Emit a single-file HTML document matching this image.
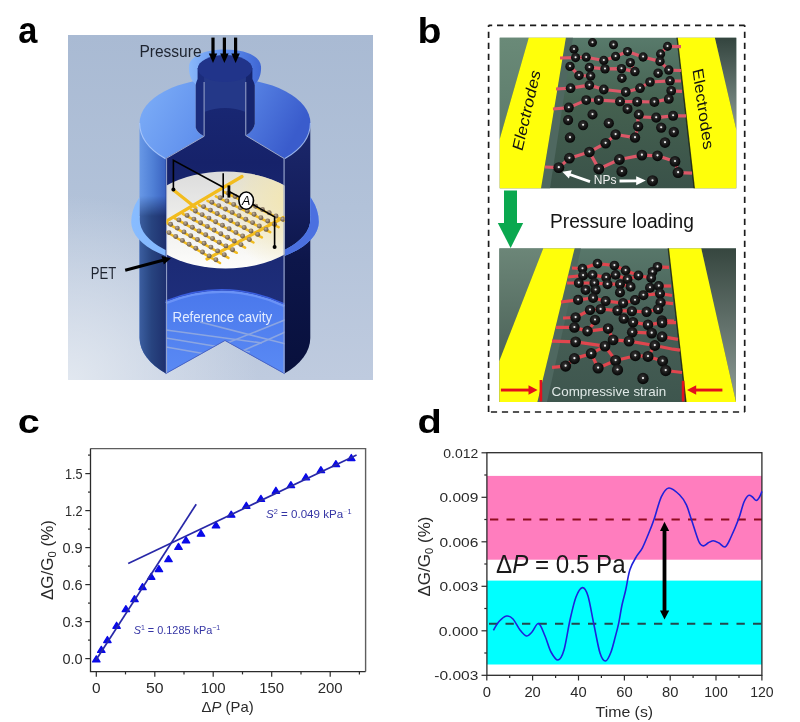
<!DOCTYPE html>
<html><head><meta charset="utf-8"><title>Figure</title>
<style>html,body{margin:0;padding:0;background:#fff;} svg{display:block;}</style>
</head><body>
<svg width="800" height="722" viewBox="0 0 800 722">
<rect x="0" y="0" width="800" height="722" fill="#fff"/>
<defs>
<linearGradient id="bgA" x1="0" y1="0" x2="0" y2="1">
 <stop offset="0" stop-color="#a9bad3"/><stop offset="0.5" stop-color="#b2c2d9"/><stop offset="1" stop-color="#bfcbdf"/>
</linearGradient>
<radialGradient id="bgAglow" cx="68" cy="385" r="190" gradientUnits="userSpaceOnUse">
 <stop offset="0" stop-color="#e2e8f0" stop-opacity="1"/><stop offset="1" stop-color="#e2e8f0" stop-opacity="0"/>
</radialGradient>
<linearGradient id="capTop" x1="0" y1="0" x2="1" y2="0.3">
 <stop offset="0" stop-color="#7fb0f8"/><stop offset="0.45" stop-color="#6393ee"/><stop offset="1" stop-color="#3a5ccc"/>
</linearGradient>
<linearGradient id="wallL" x1="0" y1="0" x2="1" y2="0">
 <stop offset="0" stop-color="#6898e6"/><stop offset="0.5" stop-color="#5080d6"/><stop offset="1" stop-color="#3a62c0"/>
</linearGradient>
<linearGradient id="wallL2" x1="0" y1="0" x2="1" y2="0">
 <stop offset="0" stop-color="#3c5ea0"/><stop offset="0.25" stop-color="#30508e"/><stop offset="0.45" stop-color="#284480"/><stop offset="1" stop-color="#1e306e"/>
</linearGradient>
<linearGradient id="wallR" x1="0" y1="123" x2="0" y2="373" gradientUnits="userSpaceOnUse">
 <stop offset="0" stop-color="#1c286c"/><stop offset="0.3" stop-color="#151f5e"/><stop offset="0.55" stop-color="#0d164a"/><stop offset="1" stop-color="#08103c"/>
</linearGradient>
<linearGradient id="interior" x1="0" y1="70" x2="0" y2="300" gradientUnits="userSpaceOnUse">
 <stop offset="0" stop-color="#1a2a78"/><stop offset="0.4" stop-color="#16226a"/><stop offset="1" stop-color="#1e2e7a"/>
</linearGradient>
<linearGradient id="floor" x1="0" y1="0" x2="0" y2="1">
 <stop offset="0" stop-color="#4a78ec"/><stop offset="1" stop-color="#5a8af4"/>
</linearGradient>
<linearGradient id="membrane" x1="0" y1="0" x2="0" y2="1">
 <stop offset="0" stop-color="#dcdcdc"/><stop offset="0.45" stop-color="#ececea"/><stop offset="1" stop-color="#fdfdfb"/>
</linearGradient>
<radialGradient id="memTint" cx="290" cy="200" r="70" gradientUnits="userSpaceOnUse">
 <stop offset="0" stop-color="#f3e6b0" stop-opacity="0.95"/><stop offset="0.6" stop-color="#f3e6b0" stop-opacity="0.5"/><stop offset="1" stop-color="#f3e6b0" stop-opacity="0"/>
</radialGradient>
<linearGradient id="flangeL" x1="0" y1="0" x2="1" y2="0">
 <stop offset="0" stop-color="#88bcff"/><stop offset="1" stop-color="#68a0f8"/>
</linearGradient>
<linearGradient id="neckRim" x1="0" y1="0" x2="1" y2="0">
 <stop offset="0" stop-color="#8ab8fb"/><stop offset="0.5" stop-color="#5f90ee"/><stop offset="1" stop-color="#3f66d4"/>
</linearGradient>
<radialGradient id="np" cx="0.45" cy="0.4" r="0.6">
 <stop offset="0" stop-color="#3a3a3a"/><stop offset="0.6" stop-color="#161616"/><stop offset="1" stop-color="#050505"/>
</radialGradient>
<radialGradient id="npA" cx="0.4" cy="0.35" r="0.7">
 <stop offset="0" stop-color="#c0b09a"/><stop offset="0.5" stop-color="#8a7a66"/><stop offset="1" stop-color="#5e4e3e"/>
</radialGradient>
<linearGradient id="bgB1" x1="0" y1="0" x2="0" y2="1">
 <stop offset="0" stop-color="#587a6b"/><stop offset="0.45" stop-color="#44604f"/><stop offset="1" stop-color="#3a5249"/>
</linearGradient>
<linearGradient id="outL1" x1="0" y1="0" x2="0" y2="1">
 <stop offset="0" stop-color="#6a8a78"/><stop offset="1" stop-color="#5c7a6a"/>
</linearGradient>
<linearGradient id="outR1" x1="0" y1="0" x2="0" y2="1">
 <stop offset="0" stop-color="#33443e"/><stop offset="1" stop-color="#8a9a94"/>
</linearGradient>
<linearGradient id="bgB2" x1="0" y1="0" x2="0" y2="1">
 <stop offset="0" stop-color="#58776a"/><stop offset="0.5" stop-color="#465e55"/><stop offset="1" stop-color="#3e564e"/>
</linearGradient>
<linearGradient id="outL2" x1="0" y1="0" x2="0" y2="1">
 <stop offset="0" stop-color="#6c8678"/><stop offset="1" stop-color="#4c6258"/>
</linearGradient>
<linearGradient id="outR2" x1="0" y1="0" x2="0" y2="1">
 <stop offset="0" stop-color="#36463f"/><stop offset="1" stop-color="#8e9c97"/>
</linearGradient>
</defs>
<text transform="translate(18.2,42.5) scale(0.92,1)" font-family="'Liberation Sans', 'DejaVu Sans', sans-serif" font-weight="bold" font-size="37.4" fill="#000">a</text>
<text transform="translate(417.5,42.8) scale(1.09,1)" font-family="'Liberation Sans', 'DejaVu Sans', sans-serif" font-weight="bold" font-size="36" fill="#000">b</text>
<text transform="translate(17.8,433.4) scale(1.2,1)" font-family="'Liberation Sans', 'DejaVu Sans', sans-serif" font-weight="bold" font-size="33" fill="#000">c</text>
<text transform="translate(417.6,433.0) scale(1.18,1)" font-family="'Liberation Sans', 'DejaVu Sans', sans-serif" font-weight="bold" font-size="33.7" fill="#000">d</text>
<g id="panelA">
<rect x="68" y="35" width="305" height="345" fill="url(#bgA)"/>
<rect x="68" y="35" width="305" height="345" fill="url(#bgAglow)"/>
<path d="M139.5,123 L166,123 L166,373.6 A85.4,50 0 0 1 139.5,338 Z" fill="url(#wallL)"/>
<linearGradient id="lwFade" x1="0" y1="196" x2="0" y2="216" gradientUnits="userSpaceOnUse"><stop offset="0" stop-color="#fff" stop-opacity="0"/><stop offset="1" stop-color="#fff" stop-opacity="1"/></linearGradient>
<mask id="lwMask"><rect x="130" y="190" width="40" height="200" fill="url(#lwFade)"/></mask>
<path d="M139.5,196 L166,196 L166,373.6 A85.4,50 0 0 1 139.5,338 Z" fill="url(#wallL2)" mask="url(#lwMask)"/>
<path d="M284.5,123 L310.3,123 L310.3,338 A85.4,50 0 0 1 284.5,373.6 Z" fill="url(#wallR)"/>
<clipPath id="clipFl"><rect x="100" y="150" width="39.5" height="130"/><rect x="310.3" y="150" width="25" height="130"/><rect x="139.5" y="216" width="26.3" height="60"/><rect x="284.5" y="216" width="25.8" height="60"/></clipPath>
<path d="M131.2,222 A93.8,60 0 0 1 318.8,222 A93.8,44 0 0 1 131.2,222 Z M139.6,219 A85.4,43 0 0 1 310.4,219 A85.4,43 0 0 1 139.6,219 Z" fill-rule="evenodd" fill="url(#flangeL)" clip-path="url(#clipFl)"/>
<clipPath id="clipFlR"><rect x="284.5" y="150" width="50" height="130"/></clipPath>
<g clip-path="url(#clipFlR)"><path d="M131.2,222 A93.8,60 0 0 1 318.8,222 A93.8,44 0 0 1 131.2,222 Z M139.6,219 A85.4,43 0 0 1 310.4,219 A85.4,43 0 0 1 139.6,219 Z" fill-rule="evenodd" fill="#4b70e0" clip-path="url(#clipFl)"/></g>
<clipPath id="clipCap"><path d="M60,30 L195.7,30 L195.7,127.6 Q196.5,133 204.1,136.3 L165.8,158.2 L165.8,400 L284.5,400 L284.5,158.5 L245.8,135.5 Q253.5,131 254.8,124 L254.8,30 L400,30 L400,400 L60,400 Z"/></clipPath>
<path d="M139.6,123 A85.4,45 0 0 1 310.4,123 A85.4,50 0 0 1 139.6,123 Z" fill="url(#capTop)" clip-path="url(#clipCap)"/>
<path d="M139.6,123 A85.4,50 0 0 0 310.4,123" fill="none" stroke="#b4d0ff" stroke-width="1.1" opacity="0.8" clip-path="url(#clipCap)"/>
<path d="M196,84.5 C190,80 188.6,72 189,66.5 C189.5,56 205,49.5 225,49.5 C245,49.5 260.5,56 261,66.5 C261.4,72 260,80 254.5,84.5 Z" fill="url(#neckRim)"/>
<path d="M204.1,68 L204.1,136.3 L165.8,158.2 L165.8,373.6 L225,340.5 L284.5,373.6 L284.5,158.5 L245.8,135.5 L245.8,68 Z" fill="url(#interior)"/>
<path d="M197.6,68 L204.1,68 L204.1,136.3 Q197,133 195.7,127.6 L195.7,85 Q196.2,82 197.6,79 Z" fill="#1b2c7c"/>
<path d="M245.8,68 L252.4,68 L252.4,79 Q253.9,82 254.8,85 L254.8,124 Q253.5,131 245.8,135.5 Z" fill="#16256e"/>
<path d="M204.1,68 L245.8,68 L245.8,112 Q225,104 204.1,112 Z" fill="#243888"/>
<ellipse cx="225" cy="68.5" rx="27.2" ry="13.5" fill="#21348a"/>
<path d="M165.8,302 Q225,278 284.5,305 L284.5,373.6 L225,340.5 L165.8,373.6 Z" fill="url(#floor)"/>
<path d="M165.8,303 Q225,279 284.5,306" fill="none" stroke="#6a92f6" stroke-width="2.5"/>
<path d="M165.8,301 Q225,277 284.5,304" fill="none" stroke="#3a5ee0" stroke-width="1.4"/>
<clipPath id="clipFloor"><path d="M165.8,302 Q225,278 284.5,305 L284.5,373.6 L225,340.5 L165.8,373.6 Z"/></clipPath>
<g clip-path="url(#clipFloor)" stroke="#9fb2dc" stroke-width="1.6" opacity="0.75"><line x1="166" y1="330" x2="262" y2="343"/><line x1="166" y1="338" x2="250" y2="352"/><line x1="166" y1="347" x2="240" y2="360"/><line x1="222" y1="345" x2="290" y2="318"/><line x1="240" y1="352" x2="290" y2="330"/><line x1="200" y1="322" x2="290" y2="345"/></g>
<path d="M165.8,373.6 L225,340.5 L284.5,373.6" fill="none" stroke="#4a66c8" stroke-width="1"/>
<clipPath id="clipMem"><rect x="166.5" y="150" width="118" height="130"/></clipPath>
<ellipse cx="225.5" cy="220" rx="84" ry="48.5" fill="url(#membrane)" clip-path="url(#clipMem)"/>
<ellipse cx="225.5" cy="220" rx="84" ry="48.5" fill="url(#memTint)" clip-path="url(#clipMem)"/>
<path d="M204.1,82 L204.1,136.3 L166.6,158.2 L166.6,373" fill="none" stroke="#9aa6cc" stroke-width="1"/>
<path d="M245.8,82 L245.8,135.5 L284,158.5 L284,373" fill="none" stroke="#9aa6cc" stroke-width="1"/>
<g clip-path="url(#clipMem)">
<g stroke="#f2bc1e" stroke-width="2.5" stroke-linecap="round"><line x1="158.0" y1="227.0" x2="220.0" y2="263.0"/><line x1="166.2" y1="222.6" x2="228.4" y2="257.9"/><line x1="174.5" y1="218.2" x2="236.8" y2="252.8"/><line x1="182.8" y1="213.9" x2="245.1" y2="247.6"/><line x1="191.0" y1="209.5" x2="253.5" y2="242.5"/><line x1="199.2" y1="205.1" x2="261.9" y2="237.4"/><line x1="207.5" y1="200.8" x2="270.2" y2="232.2"/><line x1="215.8" y1="196.4" x2="278.6" y2="227.1"/><line x1="224.0" y1="192.0" x2="287.0" y2="222.0"/></g>
<g stroke="#f2bc1e" stroke-width="3.2" stroke-linecap="round"><line x1="164" y1="222.5" x2="242" y2="176.5"/><line x1="283.5" y1="217.5" x2="207" y2="259"/><line x1="173.4" y1="190" x2="196" y2="208"/></g>
<g fill="url(#npA)"><circle cx="162.3" cy="228.7" r="2.45"/><circle cx="169.0" cy="232.6" r="2.45"/><circle cx="175.7" cy="236.5" r="2.45"/><circle cx="182.4" cy="240.4" r="2.45"/><circle cx="189.1" cy="244.3" r="2.45"/><circle cx="195.8" cy="248.2" r="2.45"/><circle cx="202.5" cy="252.0" r="2.45"/><circle cx="209.2" cy="255.9" r="2.45"/><circle cx="215.9" cy="259.8" r="2.45"/><circle cx="170.6" cy="224.3" r="2.45"/><circle cx="177.3" cy="228.1" r="2.45"/><circle cx="184.0" cy="231.9" r="2.45"/><circle cx="190.7" cy="235.7" r="2.45"/><circle cx="197.4" cy="239.5" r="2.45"/><circle cx="204.1" cy="243.3" r="2.45"/><circle cx="210.9" cy="247.1" r="2.45"/><circle cx="217.6" cy="250.9" r="2.45"/><circle cx="224.3" cy="254.7" r="2.45"/><circle cx="178.9" cy="219.9" r="2.45"/><circle cx="185.6" cy="223.6" r="2.45"/><circle cx="192.3" cy="227.3" r="2.45"/><circle cx="199.0" cy="231.0" r="2.45"/><circle cx="205.7" cy="234.8" r="2.45"/><circle cx="212.5" cy="238.5" r="2.45"/><circle cx="219.2" cy="242.2" r="2.45"/><circle cx="225.9" cy="245.9" r="2.45"/><circle cx="232.6" cy="249.7" r="2.45"/><circle cx="187.1" cy="215.4" r="2.45"/><circle cx="193.9" cy="219.1" r="2.45"/><circle cx="200.6" cy="222.7" r="2.45"/><circle cx="207.3" cy="226.4" r="2.45"/><circle cx="214.1" cy="230.0" r="2.45"/><circle cx="220.8" cy="233.7" r="2.45"/><circle cx="227.5" cy="237.3" r="2.45"/><circle cx="234.3" cy="241.0" r="2.45"/><circle cx="241.0" cy="244.6" r="2.45"/><circle cx="195.4" cy="211.0" r="2.45"/><circle cx="202.1" cy="214.6" r="2.45"/><circle cx="208.9" cy="218.1" r="2.45"/><circle cx="215.6" cy="221.7" r="2.45"/><circle cx="222.4" cy="225.3" r="2.45"/><circle cx="229.1" cy="228.8" r="2.45"/><circle cx="235.9" cy="232.4" r="2.45"/><circle cx="242.6" cy="236.0" r="2.45"/><circle cx="249.4" cy="239.5" r="2.45"/><circle cx="203.6" cy="206.6" r="2.45"/><circle cx="210.4" cy="210.1" r="2.45"/><circle cx="217.2" cy="213.5" r="2.45"/><circle cx="223.9" cy="217.0" r="2.45"/><circle cx="230.7" cy="220.5" r="2.45"/><circle cx="237.5" cy="224.0" r="2.45"/><circle cx="244.2" cy="227.5" r="2.45"/><circle cx="251.0" cy="231.0" r="2.45"/><circle cx="257.7" cy="234.4" r="2.45"/><circle cx="211.9" cy="202.2" r="2.45"/><circle cx="218.7" cy="205.6" r="2.45"/><circle cx="225.4" cy="209.0" r="2.45"/><circle cx="232.2" cy="212.4" r="2.45"/><circle cx="239.0" cy="215.8" r="2.45"/><circle cx="245.8" cy="219.2" r="2.45"/><circle cx="252.6" cy="222.6" r="2.45"/><circle cx="259.3" cy="226.0" r="2.45"/><circle cx="266.1" cy="229.4" r="2.45"/><circle cx="220.2" cy="197.7" r="2.45"/><circle cx="226.9" cy="201.0" r="2.45"/><circle cx="233.7" cy="204.4" r="2.45"/><circle cx="240.5" cy="207.7" r="2.45"/><circle cx="247.3" cy="211.0" r="2.45"/><circle cx="254.1" cy="214.3" r="2.45"/><circle cx="260.9" cy="217.7" r="2.45"/><circle cx="267.7" cy="221.0" r="2.45"/><circle cx="274.5" cy="224.3" r="2.45"/><circle cx="228.4" cy="193.3" r="2.45"/><circle cx="235.2" cy="196.5" r="2.45"/><circle cx="242.0" cy="199.8" r="2.45"/><circle cx="248.8" cy="203.0" r="2.45"/><circle cx="255.6" cy="206.3" r="2.45"/><circle cx="262.4" cy="209.5" r="2.45"/><circle cx="269.2" cy="212.7" r="2.45"/><circle cx="276.0" cy="216.0" r="2.45"/><circle cx="282.8" cy="219.2" r="2.45"/></g>
</g>
<g stroke="#000" stroke-width="1.6" fill="none">
<polyline points="173.4,189.5 173.4,160.3 223.2,187.2"/>
<line x1="223.2" y1="173.2" x2="223.2" y2="197.6"/>
<polyline points="229,191.5 246,200.5 274.6,216.9 274.6,247"/>
</g>
<rect x="227.5" y="185.4" width="2.8" height="12.2" fill="#000"/>
<circle cx="173.4" cy="189.6" r="2" fill="#000"/><circle cx="274.6" cy="247" r="2" fill="#000"/>
<ellipse cx="246.2" cy="200.6" rx="7.3" ry="8.6" fill="#fff" stroke="#000" stroke-width="1.6"/>
<text x="246.2" y="205.2" font-family="'Liberation Sans', 'DejaVu Sans', sans-serif" font-style="italic" font-size="12.5" text-anchor="middle" fill="#000">A</text>
<text x="139.4" y="57" font-family="'Liberation Sans', 'DejaVu Sans', sans-serif" font-size="16.5" fill="#1e2430" textLength="62.2" lengthAdjust="spacingAndGlyphs">Pressure</text>
<text x="90.8" y="278.7" font-family="'Liberation Sans', 'DejaVu Sans', sans-serif" font-size="16" fill="#1e2430" textLength="25.4" lengthAdjust="spacingAndGlyphs">PET</text>
<text x="172.5" y="322.2" font-family="'Liberation Sans', 'DejaVu Sans', sans-serif" font-size="14" fill="#e2ecff" textLength="99.7" lengthAdjust="spacingAndGlyphs">Reference cavity</text>
<rect x="211.4" y="37.6" width="3.2" height="17" fill="#000"/>
<path d="M208.8,53.5 L217.2,53.5 L213.0,63 Z" fill="#000"/>
<rect x="222.8" y="37.6" width="3.2" height="17" fill="#000"/>
<path d="M220.2,53.5 L228.6,53.5 L224.4,63 Z" fill="#000"/>
<rect x="234.0" y="37.6" width="3.2" height="17" fill="#000"/>
<path d="M231.4,53.5 L239.8,53.5 L235.6,63 Z" fill="#000"/>
<line x1="125.2" y1="270.2" x2="163" y2="260.3" stroke="#000" stroke-width="3"/>
<path d="M171,258.2 L161.5,256 L163.8,264.5 Z" fill="#000"/>
</g>
<g id="panelB">
<g stroke="#1c1c1c" stroke-width="1.7" fill="none" stroke-dasharray="6.2 4.8"><line x1="488.6" y1="25.3" x2="744.7" y2="25.3" stroke-dashoffset="2.6"/><line x1="488.6" y1="412" x2="744.7" y2="412" stroke-dashoffset="8.7"/><line x1="488.6" y1="25.3" x2="488.6" y2="412" stroke-dashoffset="4.45"/><line x1="744.7" y1="25.3" x2="744.7" y2="412" stroke-dashoffset="4.45"/></g>
<clipPath id="clipB1"><rect x="499.5" y="37.5" width="237" height="151"/></clipPath>
<g clip-path="url(#clipB1)">
<rect x="499.5" y="37.5" width="237" height="151" fill="url(#bgB1)"/>
<polygon points="499.5,37.5 528.8,37.5 499.5,139.7" fill="url(#outL1)"/>
<polygon points="565.9,37.5 573,37.5 550,188.5 541,188.5" fill="#4f6860"/>
<polygon points="714.8,37.5 736.5,37.5 736.5,130.5" fill="url(#outR1)"/>
<polygon points="528.8,37.5 565.9,37.5 541,188.5 499.5,188.5 499.5,139.7" fill="#ffff0a"/>
<polygon points="677.1,37.5 714.8,37.5 736.5,130.5 736.5,188.5 694.3,188.5" fill="#ffff0a"/>
<line x1="677.1" y1="37.5" x2="694.3" y2="188.5" stroke="#101810" stroke-width="1.4" opacity="0.8"/>
<g fill="none" stroke="#dc5868" stroke-width="3.2" stroke-linejoin="round"><polyline points="560.0,58.0 575.6,57.6 586.2,57.2 603.8,60.5 615.6,56.4 627.5,51.6 643.1,57.0 660.0,61.4 668.8,70.1 681.0,70.5"/><polyline points="667.5,46.4 681.0,46.6"/><polyline points="667.5,46.4 660.6,53.9 660.0,61.4"/><polyline points="570.0,66.4 579.0,75.5 590.6,76.0"/><polyline points="589.4,67.4 605.0,68.9 621.5,68.6 634.9,71.6"/><polyline points="630.3,62.6 634.9,71.6"/><polyline points="556.0,89.0 570.6,88.2 589.4,85.1 603.8,89.5 625.8,92.0 640.0,88.2 650.0,82.0 670.0,80.8 681.0,81.0"/><polyline points="553.0,109.0 568.8,107.6 586.2,100.1 598.8,100.1 620.0,101.4 637.2,101.7 654.4,102.0 668.8,98.9"/><polyline points="671.2,90.8 682.0,91.4"/><polyline points="643.0,117.0 656.2,117.6 673.1,115.8 686.0,115.8"/><polyline points="637.5,110.0 638.1,126.4 635.0,137.6"/><polyline points="545.0,167.0 558.8,167.6 569.4,158.2 589.4,152.0 605.6,143.2 615.6,134.5 635.0,137.6"/><polyline points="589.4,152.0 598.8,168.9 619.4,159.5 641.9,155.1 657.5,155.8 675.0,161.4 678.1,172.6 692.0,173.2"/></g>
<circle cx="592.5" cy="42.6" r="4.52" fill="url(#np)"/><circle cx="592.5" cy="42.2" r="0.99" fill="#ececec"/><circle cx="613.5" cy="44.8" r="4.54" fill="url(#np)"/><circle cx="613.5" cy="44.4" r="0.99" fill="#ececec"/><circle cx="574.0" cy="49.2" r="4.57" fill="url(#np)"/><circle cx="574.0" cy="48.9" r="1.00" fill="#ececec"/><circle cx="627.5" cy="51.6" r="4.59" fill="url(#np)"/><circle cx="627.5" cy="51.2" r="1.00" fill="#ececec"/><circle cx="575.6" cy="57.6" r="4.63" fill="url(#np)"/><circle cx="575.6" cy="57.2" r="1.01" fill="#ececec"/><circle cx="586.2" cy="57.2" r="4.63" fill="url(#np)"/><circle cx="586.2" cy="56.9" r="1.01" fill="#ececec"/><circle cx="603.8" cy="60.5" r="4.66" fill="url(#np)"/><circle cx="603.8" cy="60.1" r="1.01" fill="#ececec"/><circle cx="615.6" cy="56.4" r="4.62" fill="url(#np)"/><circle cx="615.6" cy="56.0" r="1.00" fill="#ececec"/><circle cx="630.3" cy="62.6" r="4.67" fill="url(#np)"/><circle cx="630.3" cy="62.2" r="1.01" fill="#ececec"/><circle cx="570.0" cy="66.4" r="4.70" fill="url(#np)"/><circle cx="570.0" cy="66.0" r="1.01" fill="#ececec"/><circle cx="589.4" cy="67.4" r="4.71" fill="url(#np)"/><circle cx="589.4" cy="67.0" r="1.01" fill="#ececec"/><circle cx="605.0" cy="68.9" r="4.72" fill="url(#np)"/><circle cx="605.0" cy="68.5" r="1.02" fill="#ececec"/><circle cx="621.5" cy="68.6" r="4.72" fill="url(#np)"/><circle cx="621.5" cy="68.2" r="1.02" fill="#ececec"/><circle cx="634.9" cy="71.6" r="4.74" fill="url(#np)"/><circle cx="634.9" cy="71.2" r="1.02" fill="#ececec"/><circle cx="579.0" cy="75.5" r="4.77" fill="url(#np)"/><circle cx="579.0" cy="75.1" r="1.02" fill="#ececec"/><circle cx="590.6" cy="76.0" r="4.77" fill="url(#np)"/><circle cx="590.6" cy="75.6" r="1.02" fill="#ececec"/><circle cx="621.9" cy="78.2" r="4.79" fill="url(#np)"/><circle cx="621.9" cy="77.8" r="1.02" fill="#ececec"/><circle cx="570.6" cy="88.2" r="4.87" fill="url(#np)"/><circle cx="570.6" cy="87.8" r="1.03" fill="#ececec"/><circle cx="589.4" cy="85.1" r="4.84" fill="url(#np)"/><circle cx="589.4" cy="84.7" r="1.03" fill="#ececec"/><circle cx="603.8" cy="89.5" r="4.88" fill="url(#np)"/><circle cx="603.8" cy="89.1" r="1.04" fill="#ececec"/><circle cx="625.8" cy="92.0" r="4.89" fill="url(#np)"/><circle cx="625.8" cy="91.6" r="1.04" fill="#ececec"/><circle cx="640.0" cy="88.2" r="4.87" fill="url(#np)"/><circle cx="640.0" cy="87.8" r="1.03" fill="#ececec"/><circle cx="586.2" cy="100.1" r="4.96" fill="url(#np)"/><circle cx="586.2" cy="99.7" r="1.04" fill="#ececec"/><circle cx="598.8" cy="100.1" r="4.96" fill="url(#np)"/><circle cx="598.8" cy="99.7" r="1.04" fill="#ececec"/><circle cx="620.0" cy="101.4" r="4.97" fill="url(#np)"/><circle cx="620.0" cy="101.0" r="1.05" fill="#ececec"/><circle cx="637.2" cy="101.7" r="4.97" fill="url(#np)"/><circle cx="637.2" cy="101.3" r="1.05" fill="#ececec"/><circle cx="568.8" cy="107.6" r="5.01" fill="url(#np)"/><circle cx="568.8" cy="107.2" r="1.05" fill="#ececec"/><circle cx="627.5" cy="108.9" r="5.02" fill="url(#np)"/><circle cx="627.5" cy="108.5" r="1.05" fill="#ececec"/><circle cx="667.5" cy="46.4" r="4.55" fill="url(#np)"/><circle cx="667.5" cy="46.0" r="1.00" fill="#ececec"/><circle cx="643.1" cy="57.0" r="4.63" fill="url(#np)"/><circle cx="643.1" cy="56.6" r="1.01" fill="#ececec"/><circle cx="660.6" cy="53.9" r="4.61" fill="url(#np)"/><circle cx="660.6" cy="53.5" r="1.00" fill="#ececec"/><circle cx="660.0" cy="61.4" r="4.66" fill="url(#np)"/><circle cx="660.0" cy="61.0" r="1.01" fill="#ececec"/><circle cx="658.1" cy="73.2" r="4.75" fill="url(#np)"/><circle cx="658.1" cy="72.8" r="1.02" fill="#ececec"/><circle cx="668.8" cy="70.1" r="4.73" fill="url(#np)"/><circle cx="668.8" cy="69.7" r="1.02" fill="#ececec"/><circle cx="650.0" cy="82.0" r="4.82" fill="url(#np)"/><circle cx="650.0" cy="81.6" r="1.03" fill="#ececec"/><circle cx="670.0" cy="80.8" r="4.81" fill="url(#np)"/><circle cx="670.0" cy="80.3" r="1.03" fill="#ececec"/><circle cx="671.2" cy="90.8" r="4.88" fill="url(#np)"/><circle cx="671.2" cy="90.3" r="1.04" fill="#ececec"/><circle cx="668.8" cy="98.9" r="4.95" fill="url(#np)"/><circle cx="668.8" cy="98.5" r="1.04" fill="#ececec"/><circle cx="654.4" cy="102.0" r="4.97" fill="url(#np)"/><circle cx="654.4" cy="101.6" r="1.05" fill="#ececec"/><circle cx="568.1" cy="120.1" r="5.11" fill="url(#np)"/><circle cx="568.1" cy="119.7" r="1.06" fill="#ececec"/><circle cx="583.1" cy="125.1" r="5.15" fill="url(#np)"/><circle cx="583.1" cy="124.7" r="1.07" fill="#ececec"/><circle cx="592.5" cy="114.5" r="5.07" fill="url(#np)"/><circle cx="592.5" cy="114.1" r="1.06" fill="#ececec"/><circle cx="608.8" cy="123.2" r="5.13" fill="url(#np)"/><circle cx="608.8" cy="122.8" r="1.07" fill="#ececec"/><circle cx="570.0" cy="137.6" r="5.24" fill="url(#np)"/><circle cx="570.0" cy="137.2" r="1.08" fill="#ececec"/><circle cx="615.6" cy="134.5" r="5.22" fill="url(#np)"/><circle cx="615.6" cy="134.1" r="1.08" fill="#ececec"/><circle cx="605.6" cy="143.2" r="5.28" fill="url(#np)"/><circle cx="605.6" cy="142.8" r="1.08" fill="#ececec"/><circle cx="589.4" cy="152.0" r="5.35" fill="url(#np)"/><circle cx="589.4" cy="151.6" r="1.09" fill="#ececec"/><circle cx="569.4" cy="158.2" r="5.40" fill="url(#np)"/><circle cx="569.4" cy="157.8" r="1.10" fill="#ececec"/><circle cx="558.8" cy="167.6" r="5.47" fill="url(#np)"/><circle cx="558.8" cy="167.2" r="1.11" fill="#ececec"/><circle cx="598.8" cy="168.9" r="5.48" fill="url(#np)"/><circle cx="598.8" cy="168.5" r="1.11" fill="#ececec"/><circle cx="619.4" cy="159.5" r="5.41" fill="url(#np)"/><circle cx="619.4" cy="159.1" r="1.10" fill="#ececec"/><circle cx="621.9" cy="171.4" r="5.50" fill="url(#np)"/><circle cx="621.9" cy="171.0" r="1.11" fill="#ececec"/><circle cx="638.8" cy="114.5" r="5.07" fill="url(#np)"/><circle cx="638.8" cy="114.1" r="1.06" fill="#ececec"/><circle cx="656.2" cy="117.6" r="5.09" fill="url(#np)"/><circle cx="656.2" cy="117.2" r="1.06" fill="#ececec"/><circle cx="673.1" cy="115.8" r="5.07" fill="url(#np)"/><circle cx="673.1" cy="115.3" r="1.06" fill="#ececec"/><circle cx="638.1" cy="126.4" r="5.16" fill="url(#np)"/><circle cx="638.1" cy="126.0" r="1.07" fill="#ececec"/><circle cx="661.2" cy="127.6" r="5.16" fill="url(#np)"/><circle cx="661.2" cy="127.2" r="1.07" fill="#ececec"/><circle cx="673.8" cy="132.0" r="5.20" fill="url(#np)"/><circle cx="673.8" cy="131.6" r="1.07" fill="#ececec"/><circle cx="635.0" cy="137.6" r="5.24" fill="url(#np)"/><circle cx="635.0" cy="137.2" r="1.08" fill="#ececec"/><circle cx="665.0" cy="142.6" r="5.28" fill="url(#np)"/><circle cx="665.0" cy="142.2" r="1.08" fill="#ececec"/><circle cx="641.9" cy="155.1" r="5.37" fill="url(#np)"/><circle cx="641.9" cy="154.7" r="1.09" fill="#ececec"/><circle cx="657.5" cy="155.8" r="5.38" fill="url(#np)"/><circle cx="657.5" cy="155.3" r="1.10" fill="#ececec"/><circle cx="675.0" cy="161.4" r="5.42" fill="url(#np)"/><circle cx="675.0" cy="161.0" r="1.10" fill="#ececec"/><circle cx="678.1" cy="172.6" r="5.51" fill="url(#np)"/><circle cx="678.1" cy="172.2" r="1.11" fill="#ececec"/><circle cx="652.5" cy="180.8" r="5.57" fill="url(#np)"/><circle cx="652.5" cy="180.3" r="1.12" fill="#ececec"/>
<text x="593.8" y="184.3" font-family="'Liberation Sans', 'DejaVu Sans', sans-serif" font-size="13" fill="#f2f2f2" textLength="22.7" lengthAdjust="spacingAndGlyphs">NPs</text>
<line x1="590" y1="181.6" x2="569" y2="174.2" stroke="#fff" stroke-width="2.8"/>
<path d="M562.3,171.7 L571.8,170.2 L568.9,178.6 Z" fill="#fff"/>
<line x1="619.5" y1="181" x2="637" y2="180.8" stroke="#fff" stroke-width="2.8"/>
<path d="M645.8,180.6 L636.2,176.2 L636.2,185.2 Z" fill="#fff"/>
<text transform="translate(526.3,110.2) rotate(-77) skewX(-8)" font-family="'Liberation Sans', 'DejaVu Sans', sans-serif" font-size="15.5" fill="#111" text-anchor="middle" dominant-baseline="central" textLength="82" lengthAdjust="spacingAndGlyphs">Electrodes</text>
<text transform="translate(703.4,108.7) rotate(82) skewX(6)" font-family="'Liberation Sans', 'DejaVu Sans', sans-serif" font-size="15.5" fill="#111" text-anchor="middle" dominant-baseline="central" textLength="81" lengthAdjust="spacingAndGlyphs">Electrodes</text>
</g>
<rect x="504" y="190.5" width="13" height="33" fill="#0aa84f"/>
<polygon points="497.8,223 523.2,223 510.6,248" fill="#0aa84f"/>
<text x="550" y="227.5" font-family="'Liberation Sans', 'DejaVu Sans', sans-serif" font-size="20" fill="#151515" textLength="143.8" lengthAdjust="spacingAndGlyphs">Pressure loading</text>
<clipPath id="clipB2"><rect x="499.2" y="248.2" width="236.8" height="153.8"/></clipPath>
<g clip-path="url(#clipB2)">
<rect x="499.2" y="248.2" width="236.8" height="153.8" fill="url(#bgB2)"/>
<polygon points="499.2,248.2 543.3,248.2 499.2,361.2" fill="url(#outL2)"/>
<polygon points="574.6,248.2 581,248.2 547,402 537.4,402" fill="#4f6860"/>
<polygon points="701.2,248.2 736,248.2 736,402" fill="url(#outR2)"/>
<polygon points="543.3,248.2 574.6,248.2 537.4,402 499.2,402 499.2,361.2" fill="#ffff0a"/>
<polygon points="668.3,248.2 701.2,248.2 736,402 685.9,402" fill="#ffff0a"/>
<line x1="668.3" y1="248.2" x2="685.9" y2="402" stroke="#101810" stroke-width="1.4" opacity="0.8"/>
<g fill="none" stroke="#e0464e" stroke-width="3.2" stroke-linejoin="round"><polyline points="572.0,268.0 582.5,268.6 597.5,263.6 614.4,265.5 625.6,270.5 638.4,275.5 651.2,278.0"/><polyline points="652.5,271.8 657.5,266.8 669.0,267.4"/><polyline points="568.0,277.0 583.1,275.5 592.5,274.9 606.2,277.4 615.6,274.9 627.5,279.2 638.4,276.0"/><polyline points="567.0,283.0 578.8,283.0 594.4,283.0 607.5,284.2 620.0,284.2 630.6,286.8"/><polyline points="658.8,286.0 671.0,286.0"/><polyline points="561.0,302.0 578.1,299.9 593.1,298.0 605.6,301.1 623.1,303.0 635.0,300.2 643.4,295.2 660.0,293.6 672.0,295.5"/><polyline points="660.6,302.4 673.0,303.6"/><polyline points="563.0,318.0 575.6,317.5 590.0,309.9 600.6,309.2 617.5,310.5 631.9,311.1 646.6,311.8 658.1,309.2"/><polyline points="661.9,320.5 674.0,321.0"/><polyline points="556.0,327.4 574.4,327.4 587.5,331.1 608.1,328.6 613.1,339.9 629.0,341.2 654.8,345.5 673.0,349.2 680.0,350.2"/><polyline points="595.6,321.1 587.5,331.1"/><polyline points="633.0,322.2 648.0,324.8 662.1,322.7 676.0,322.7"/><polyline points="632.2,332.2 651.7,333.1"/><polyline points="662.1,336.7 678.0,339.3"/><polyline points="552.0,341.1 575.6,341.8 605.0,346.1 591.2,353.6 574.4,358.6 565.6,366.1 552.0,367.4"/><polyline points="605.0,346.1 615.6,360.5"/><polyline points="591.2,353.6 598.1,368.0 615.6,360.5 635.3,355.7 648.0,356.4 662.6,361.1"/><polyline points="654.8,345.5 648.0,356.4"/><polyline points="665.7,370.5 682.0,372.5"/></g>
<circle cx="597.5" cy="263.6" r="4.83" fill="url(#np)"/><circle cx="597.5" cy="263.2" r="1.03" fill="#ececec"/><circle cx="614.4" cy="265.5" r="4.84" fill="url(#np)"/><circle cx="614.4" cy="265.1" r="1.03" fill="#ececec"/><circle cx="582.5" cy="268.6" r="4.86" fill="url(#np)"/><circle cx="582.5" cy="268.2" r="1.03" fill="#ececec"/><circle cx="625.6" cy="270.5" r="4.88" fill="url(#np)"/><circle cx="625.6" cy="270.1" r="1.04" fill="#ececec"/><circle cx="638.4" cy="275.5" r="4.92" fill="url(#np)"/><circle cx="638.4" cy="275.1" r="1.04" fill="#ececec"/><circle cx="657.5" cy="266.8" r="4.85" fill="url(#np)"/><circle cx="657.5" cy="266.4" r="1.03" fill="#ececec"/><circle cx="652.5" cy="271.8" r="4.89" fill="url(#np)"/><circle cx="652.5" cy="271.4" r="1.04" fill="#ececec"/><circle cx="583.1" cy="275.5" r="4.92" fill="url(#np)"/><circle cx="583.1" cy="275.1" r="1.04" fill="#ececec"/><circle cx="592.5" cy="274.9" r="4.91" fill="url(#np)"/><circle cx="592.5" cy="274.5" r="1.04" fill="#ececec"/><circle cx="606.2" cy="277.4" r="4.93" fill="url(#np)"/><circle cx="606.2" cy="277.0" r="1.04" fill="#ececec"/><circle cx="615.6" cy="274.9" r="4.91" fill="url(#np)"/><circle cx="615.6" cy="274.5" r="1.04" fill="#ececec"/><circle cx="627.5" cy="279.2" r="4.94" fill="url(#np)"/><circle cx="627.5" cy="278.9" r="1.04" fill="#ececec"/><circle cx="651.2" cy="278.0" r="4.93" fill="url(#np)"/><circle cx="651.2" cy="277.6" r="1.04" fill="#ececec"/><circle cx="578.8" cy="283.0" r="4.97" fill="url(#np)"/><circle cx="578.8" cy="282.6" r="1.05" fill="#ececec"/><circle cx="594.4" cy="283.0" r="4.97" fill="url(#np)"/><circle cx="594.4" cy="282.6" r="1.05" fill="#ececec"/><circle cx="607.5" cy="284.2" r="4.98" fill="url(#np)"/><circle cx="607.5" cy="283.9" r="1.05" fill="#ececec"/><circle cx="620.0" cy="284.2" r="4.98" fill="url(#np)"/><circle cx="620.0" cy="283.9" r="1.05" fill="#ececec"/><circle cx="630.6" cy="286.8" r="5.00" fill="url(#np)"/><circle cx="630.6" cy="286.4" r="1.05" fill="#ececec"/><circle cx="650.0" cy="287.7" r="5.01" fill="url(#np)"/><circle cx="650.0" cy="287.3" r="1.05" fill="#ececec"/><circle cx="585.6" cy="289.9" r="5.02" fill="url(#np)"/><circle cx="585.6" cy="289.5" r="1.05" fill="#ececec"/><circle cx="595.6" cy="289.9" r="5.02" fill="url(#np)"/><circle cx="595.6" cy="289.5" r="1.05" fill="#ececec"/><circle cx="620.0" cy="292.4" r="5.04" fill="url(#np)"/><circle cx="620.0" cy="292.0" r="1.06" fill="#ececec"/><circle cx="643.4" cy="295.2" r="5.06" fill="url(#np)"/><circle cx="643.4" cy="294.8" r="1.06" fill="#ececec"/><circle cx="658.8" cy="286.0" r="5.00" fill="url(#np)"/><circle cx="658.8" cy="285.6" r="1.05" fill="#ececec"/><circle cx="660.0" cy="293.6" r="5.05" fill="url(#np)"/><circle cx="660.0" cy="293.2" r="1.06" fill="#ececec"/><circle cx="578.1" cy="299.9" r="5.10" fill="url(#np)"/><circle cx="578.1" cy="299.5" r="1.06" fill="#ececec"/><circle cx="593.1" cy="298.0" r="5.08" fill="url(#np)"/><circle cx="593.1" cy="297.6" r="1.06" fill="#ececec"/><circle cx="605.6" cy="301.1" r="5.11" fill="url(#np)"/><circle cx="605.6" cy="300.7" r="1.06" fill="#ececec"/><circle cx="623.1" cy="303.0" r="5.12" fill="url(#np)"/><circle cx="623.1" cy="302.6" r="1.06" fill="#ececec"/><circle cx="635.0" cy="300.2" r="5.10" fill="url(#np)"/><circle cx="635.0" cy="299.8" r="1.06" fill="#ececec"/><circle cx="660.6" cy="302.4" r="5.12" fill="url(#np)"/><circle cx="660.6" cy="302.0" r="1.06" fill="#ececec"/><circle cx="590.0" cy="309.9" r="5.17" fill="url(#np)"/><circle cx="590.0" cy="309.5" r="1.07" fill="#ececec"/><circle cx="600.6" cy="309.2" r="5.17" fill="url(#np)"/><circle cx="600.6" cy="308.9" r="1.07" fill="#ececec"/><circle cx="617.5" cy="310.5" r="5.18" fill="url(#np)"/><circle cx="617.5" cy="310.1" r="1.07" fill="#ececec"/><circle cx="631.9" cy="311.1" r="5.18" fill="url(#np)"/><circle cx="631.9" cy="310.7" r="1.07" fill="#ececec"/><circle cx="646.6" cy="311.8" r="5.19" fill="url(#np)"/><circle cx="646.6" cy="311.4" r="1.07" fill="#ececec"/><circle cx="658.1" cy="309.2" r="5.17" fill="url(#np)"/><circle cx="658.1" cy="308.9" r="1.07" fill="#ececec"/><circle cx="575.6" cy="317.5" r="5.23" fill="url(#np)"/><circle cx="575.6" cy="317.1" r="1.08" fill="#ececec"/><circle cx="595.0" cy="319.9" r="5.25" fill="url(#np)"/><circle cx="595.0" cy="319.5" r="1.08" fill="#ececec"/><circle cx="623.8" cy="318.6" r="5.24" fill="url(#np)"/><circle cx="623.8" cy="318.2" r="1.08" fill="#ececec"/><circle cx="661.9" cy="320.5" r="5.25" fill="url(#np)"/><circle cx="661.9" cy="320.1" r="1.08" fill="#ececec"/><circle cx="574.4" cy="327.4" r="5.31" fill="url(#np)"/><circle cx="574.4" cy="327.0" r="1.09" fill="#ececec"/><circle cx="587.5" cy="331.1" r="5.33" fill="url(#np)"/><circle cx="587.5" cy="330.7" r="1.09" fill="#ececec"/><circle cx="608.1" cy="328.6" r="5.31" fill="url(#np)"/><circle cx="608.1" cy="328.2" r="1.09" fill="#ececec"/><circle cx="633.0" cy="322.2" r="5.27" fill="url(#np)"/><circle cx="633.0" cy="321.8" r="1.08" fill="#ececec"/><circle cx="648.0" cy="324.8" r="5.29" fill="url(#np)"/><circle cx="648.0" cy="324.4" r="1.08" fill="#ececec"/><circle cx="662.1" cy="322.7" r="5.27" fill="url(#np)"/><circle cx="662.1" cy="322.3" r="1.08" fill="#ececec"/><circle cx="632.2" cy="332.2" r="5.34" fill="url(#np)"/><circle cx="632.2" cy="331.8" r="1.09" fill="#ececec"/><circle cx="651.7" cy="333.1" r="5.35" fill="url(#np)"/><circle cx="651.7" cy="332.7" r="1.09" fill="#ececec"/><circle cx="662.1" cy="336.7" r="5.38" fill="url(#np)"/><circle cx="662.1" cy="336.3" r="1.10" fill="#ececec"/><circle cx="575.6" cy="341.8" r="5.41" fill="url(#np)"/><circle cx="575.6" cy="341.4" r="1.10" fill="#ececec"/><circle cx="613.1" cy="339.9" r="5.40" fill="url(#np)"/><circle cx="613.1" cy="339.5" r="1.10" fill="#ececec"/><circle cx="629.0" cy="341.2" r="5.41" fill="url(#np)"/><circle cx="629.0" cy="340.8" r="1.10" fill="#ececec"/><circle cx="654.8" cy="345.5" r="5.44" fill="url(#np)"/><circle cx="654.8" cy="345.1" r="1.10" fill="#ececec"/><circle cx="605.0" cy="346.1" r="5.45" fill="url(#np)"/><circle cx="605.0" cy="345.7" r="1.10" fill="#ececec"/><circle cx="591.2" cy="353.6" r="5.50" fill="url(#np)"/><circle cx="591.2" cy="353.2" r="1.11" fill="#ececec"/><circle cx="574.4" cy="358.6" r="5.54" fill="url(#np)"/><circle cx="574.4" cy="358.2" r="1.11" fill="#ececec"/><circle cx="635.3" cy="355.7" r="5.52" fill="url(#np)"/><circle cx="635.3" cy="355.3" r="1.11" fill="#ececec"/><circle cx="648.0" cy="356.4" r="5.52" fill="url(#np)"/><circle cx="648.0" cy="356.0" r="1.11" fill="#ececec"/><circle cx="662.6" cy="361.1" r="5.56" fill="url(#np)"/><circle cx="662.6" cy="360.7" r="1.12" fill="#ececec"/><circle cx="565.6" cy="366.1" r="5.60" fill="url(#np)"/><circle cx="565.6" cy="365.7" r="1.12" fill="#ececec"/><circle cx="598.1" cy="368.0" r="5.61" fill="url(#np)"/><circle cx="598.1" cy="367.6" r="1.12" fill="#ececec"/><circle cx="615.6" cy="360.5" r="5.55" fill="url(#np)"/><circle cx="615.6" cy="360.1" r="1.12" fill="#ececec"/><circle cx="617.5" cy="369.9" r="5.62" fill="url(#np)"/><circle cx="617.5" cy="369.5" r="1.12" fill="#ececec"/><circle cx="665.7" cy="370.5" r="5.63" fill="url(#np)"/><circle cx="665.7" cy="370.1" r="1.13" fill="#ececec"/><circle cx="643.0" cy="378.5" r="5.69" fill="url(#np)"/><circle cx="643.0" cy="378.1" r="1.13" fill="#ececec"/>
<text x="551.5" y="395.8" font-family="'Liberation Sans', 'DejaVu Sans', sans-serif" font-size="13.5" fill="#dfe8e6" textLength="114.7" lengthAdjust="spacingAndGlyphs">Compressive strain</text>
<rect x="539.6" y="380" width="2.6" height="21.5" fill="#e3101c"/>
<rect x="681.8" y="380.8" width="2.6" height="20.7" fill="#e3101c"/>
<rect x="500.9" y="388.6" width="29" height="2.9" fill="#e3101c"/>
<polygon points="528.5,385.3 537.6,390 528.5,394.7" fill="#e3101c"/>
<rect x="695" y="388.6" width="27.4" height="2.9" fill="#e3101c"/>
<polygon points="696.2,385.3 687,390 696.2,394.7" fill="#e3101c"/>
</g>
</g>
<g id="panelC">
<path d="M90.5,448.6 L365.6,448.6 L365.6,671.6" fill="none" stroke="#5e5e5e" stroke-width="1.4"/>
<path d="M90.5,448.6 L90.5,671.6 L365.6,671.6" fill="none" stroke="#2b2b2b" stroke-width="1.3"/>
<g stroke="#2b2b2b" stroke-width="1.2"><line x1="85.3" y1="658.6" x2="90.5" y2="658.6"/><line x1="85.3" y1="621.6" x2="90.5" y2="621.6"/><line x1="85.3" y1="584.6" x2="90.5" y2="584.6"/><line x1="85.3" y1="547.6" x2="90.5" y2="547.6"/><line x1="85.3" y1="510.6" x2="90.5" y2="510.6"/><line x1="85.3" y1="473.6" x2="90.5" y2="473.6"/><line x1="88.0" y1="640.1" x2="90.5" y2="640.1"/><line x1="88.0" y1="603.1" x2="90.5" y2="603.1"/><line x1="88.0" y1="566.1" x2="90.5" y2="566.1"/><line x1="88.0" y1="529.1" x2="90.5" y2="529.1"/><line x1="88.0" y1="492.1" x2="90.5" y2="492.1"/><line x1="88.0" y1="455.1" x2="90.5" y2="455.1"/><line x1="96.3" y1="671.6" x2="96.3" y2="676.8000000000001"/><line x1="154.8" y1="671.6" x2="154.8" y2="676.8000000000001"/><line x1="213.2" y1="671.6" x2="213.2" y2="676.8000000000001"/><line x1="271.7" y1="671.6" x2="271.7" y2="676.8000000000001"/><line x1="330.2" y1="671.6" x2="330.2" y2="676.8000000000001"/><line x1="125.5" y1="671.6" x2="125.5" y2="674.4"/><line x1="184.0" y1="671.6" x2="184.0" y2="674.4"/><line x1="242.5" y1="671.6" x2="242.5" y2="674.4"/><line x1="301.0" y1="671.6" x2="301.0" y2="674.4"/><line x1="359.4" y1="671.6" x2="359.4" y2="674.4"/></g>
<g font-family="'Liberation Sans', 'DejaVu Sans', sans-serif" font-size="13.3" fill="#2a2a2a"><text x="82.6" y="663.5" text-anchor="end" font-size="13.8" textLength="20.2" lengthAdjust="spacingAndGlyphs">0.0</text><text x="82.6" y="626.5" text-anchor="end" font-size="13.8" textLength="20.2" lengthAdjust="spacingAndGlyphs">0.3</text><text x="82.6" y="589.5" text-anchor="end" font-size="13.8" textLength="20.2" lengthAdjust="spacingAndGlyphs">0.6</text><text x="82.6" y="552.5" text-anchor="end" font-size="13.8" textLength="20.2" lengthAdjust="spacingAndGlyphs">0.9</text><text x="82.6" y="515.5" text-anchor="end" font-size="13.8" textLength="17.6" lengthAdjust="spacingAndGlyphs">1.2</text><text x="82.6" y="478.5" text-anchor="end" font-size="13.8" textLength="17.6" lengthAdjust="spacingAndGlyphs">1.5</text><text x="96.3" y="692.6" text-anchor="middle" font-size="14" textLength="8.6" lengthAdjust="spacingAndGlyphs">0</text><text x="154.8" y="692.6" text-anchor="middle" font-size="14" textLength="17.6" lengthAdjust="spacingAndGlyphs">50</text><text x="213.2" y="692.6" text-anchor="middle" font-size="14" textLength="25.0" lengthAdjust="spacingAndGlyphs">100</text><text x="271.7" y="692.6" text-anchor="middle" font-size="14" textLength="25.0" lengthAdjust="spacingAndGlyphs">150</text><text x="330.2" y="692.6" text-anchor="middle" font-size="14" textLength="25.0" lengthAdjust="spacingAndGlyphs">200</text></g>
<text x="201.6" y="711.6" font-family="'Liberation Sans', 'DejaVu Sans', sans-serif" font-size="14.4" fill="#2a2a2a" textLength="52" lengthAdjust="spacingAndGlyphs">Δ<tspan font-style="italic">P</tspan> (Pa)</text>
<text transform="translate(52.8,560) rotate(-90)" font-family="'Liberation Sans', 'DejaVu Sans', sans-serif" font-size="16.5" fill="#2a2a2a" text-anchor="middle" textLength="80" lengthAdjust="spacingAndGlyphs">ΔG/G<tspan font-size="11" dy="3.5">0</tspan><tspan dy="-3.5"> (%)</tspan></text>
<g fill="#0a0ae8" stroke="#0a0ae8" stroke-width="1.3" stroke-linejoin="round"><path d="M96.3,655.9 L100.0,661.9 L92.6,661.9 Z"/><path d="M101.3,646.4 L105.0,652.4 L97.6,652.4 Z"/><path d="M107.4,636.5 L111.1,642.5 L103.7,642.5 Z"/><path d="M116.6,622.3 L120.3,628.3 L112.9,628.3 Z"/><path d="M125.9,605.7 L129.6,611.7 L122.2,611.7 Z"/><path d="M134.5,595.7 L138.2,601.7 L130.8,601.7 Z"/><path d="M142.5,583.6 L146.2,589.6 L138.8,589.6 Z"/><path d="M151.2,573.3 L154.9,579.3 L147.5,579.3 Z"/><path d="M158.9,565.6 L162.6,571.6 L155.2,571.6 Z"/><path d="M168.5,555.7 L172.2,561.7 L164.8,561.7 Z"/><path d="M178.5,543.4 L182.2,549.4 L174.8,549.4 Z"/><path d="M186.0,536.9 L189.7,542.9 L182.3,542.9 Z"/><path d="M201.0,530.2 L204.7,536.2 L197.3,536.2 Z"/><path d="M216.0,521.9 L219.7,527.9 L212.3,527.9 Z"/><path d="M231.2,511.2 L234.9,517.2 L227.5,517.2 Z"/><path d="M246.3,502.3 L250.0,508.3 L242.6,508.3 Z"/><path d="M260.9,495.4 L264.6,501.4 L257.2,501.4 Z"/><path d="M275.9,487.3 L279.6,493.3 L272.2,493.3 Z"/><path d="M290.9,481.7 L294.6,487.7 L287.2,487.7 Z"/><path d="M305.9,473.8 L309.6,479.8 L302.2,479.8 Z"/><path d="M320.9,466.7 L324.6,472.7 L317.2,472.7 Z"/><path d="M335.9,460.7 L339.6,466.7 L332.2,466.7 Z"/><path d="M351.3,454.5 L355.0,460.5 L347.6,460.5 Z"/></g>
<line x1="96" y1="660" x2="196.2" y2="504.2" stroke="#2828a8" stroke-width="1.7"/>
<line x1="128.2" y1="563.5" x2="356.6" y2="455" stroke="#2828a8" stroke-width="1.7"/>
<text x="133.7" y="634" font-family="'Liberation Sans', 'DejaVu Sans', sans-serif" font-size="11" fill="#3434a4" textLength="86.5" lengthAdjust="spacingAndGlyphs"><tspan font-style="italic">S</tspan><tspan font-size="7" dy="-4">1</tspan><tspan dy="4"> = 0.1285 kPa</tspan><tspan font-size="7" dy="-4">−1</tspan></text>
<text x="266" y="518.4" font-family="'Liberation Sans', 'DejaVu Sans', sans-serif" font-size="11" fill="#3434a4" textLength="85.5" lengthAdjust="spacingAndGlyphs"><tspan font-style="italic">S</tspan><tspan font-size="7" dy="-4">2</tspan><tspan dy="4"> = 0.049 kPa</tspan><tspan font-size="7" dy="-4"><tspan fill="#c8c8e4">−</tspan>1</tspan></text>
</g>
<g id="panelD">
<rect x="486.9" y="475.9" width="275.0" height="83.8" fill="#ff7dbe"/>
<rect x="486.9" y="580.6" width="275.0" height="83.9" fill="#00ffff"/>
<line x1="490" y1="519.6" x2="761.9" y2="519.6" stroke="#900c20" stroke-width="2" stroke-dasharray="8.3 8.2"/>
<line x1="489" y1="623.8" x2="761.9" y2="623.8" stroke="#24484c" stroke-width="2" stroke-dasharray="8.3 8.2"/>
<rect x="486.9" y="452.7" width="275.0" height="222.59999999999997" fill="none" stroke="#2b2b2b" stroke-width="1.3"/>
<g stroke="#2b2b2b" stroke-width="1.2"><line x1="481.5" y1="675.3" x2="486.9" y2="675.3"/><line x1="481.5" y1="630.8" x2="486.9" y2="630.8"/><line x1="481.5" y1="586.3" x2="486.9" y2="586.3"/><line x1="481.5" y1="541.8" x2="486.9" y2="541.8"/><line x1="481.5" y1="497.3" x2="486.9" y2="497.3"/><line x1="481.5" y1="452.8" x2="486.9" y2="452.8"/><line x1="484.29999999999995" y1="653.0" x2="486.9" y2="653.0"/><line x1="484.29999999999995" y1="608.5" x2="486.9" y2="608.5"/><line x1="484.29999999999995" y1="564.0" x2="486.9" y2="564.0"/><line x1="484.29999999999995" y1="519.5" x2="486.9" y2="519.5"/><line x1="484.29999999999995" y1="475.0" x2="486.9" y2="475.0"/><line x1="486.8" y1="675.3" x2="486.8" y2="680.5"/><line x1="532.6" y1="675.3" x2="532.6" y2="680.5"/><line x1="578.5" y1="675.3" x2="578.5" y2="680.5"/><line x1="624.4" y1="675.3" x2="624.4" y2="680.5"/><line x1="670.2" y1="675.3" x2="670.2" y2="680.5"/><line x1="716.0" y1="675.3" x2="716.0" y2="680.5"/><line x1="761.9" y1="675.3" x2="761.9" y2="680.5"/><line x1="509.7" y1="675.3" x2="509.7" y2="678.0999999999999"/><line x1="555.6" y1="675.3" x2="555.6" y2="678.0999999999999"/><line x1="601.4" y1="675.3" x2="601.4" y2="678.0999999999999"/><line x1="647.3" y1="675.3" x2="647.3" y2="678.0999999999999"/><line x1="693.1" y1="675.3" x2="693.1" y2="678.0999999999999"/><line x1="739.0" y1="675.3" x2="739.0" y2="678.0999999999999"/></g>
<g font-family="'Liberation Sans', 'DejaVu Sans', sans-serif" font-size="13.3" fill="#2a2a2a"><text x="478.3" y="457.6" text-anchor="end" textLength="35.0" lengthAdjust="spacingAndGlyphs">0.012</text><text x="478.3" y="502.1" text-anchor="end" textLength="38.8" lengthAdjust="spacingAndGlyphs">0.009</text><text x="478.3" y="546.6" text-anchor="end" textLength="38.8" lengthAdjust="spacingAndGlyphs">0.006</text><text x="478.3" y="591.1" text-anchor="end" textLength="38.8" lengthAdjust="spacingAndGlyphs">0.003</text><text x="478.3" y="635.6" text-anchor="end" textLength="39.6" lengthAdjust="spacingAndGlyphs">0.000</text><text x="478.3" y="680.1" text-anchor="end" textLength="44.0" lengthAdjust="spacingAndGlyphs">-0.003</text><text x="486.8" y="696.6" text-anchor="middle" font-size="15" textLength="8.2" lengthAdjust="spacingAndGlyphs">0</text><text x="532.6" y="696.6" text-anchor="middle" font-size="15" textLength="16.4" lengthAdjust="spacingAndGlyphs">20</text><text x="578.5" y="696.6" text-anchor="middle" font-size="15" textLength="16.4" lengthAdjust="spacingAndGlyphs">40</text><text x="624.4" y="696.6" text-anchor="middle" font-size="15" textLength="16.4" lengthAdjust="spacingAndGlyphs">60</text><text x="670.2" y="696.6" text-anchor="middle" font-size="15" textLength="16.4" lengthAdjust="spacingAndGlyphs">80</text><text x="716.0" y="696.6" text-anchor="middle" font-size="15" textLength="23.5" lengthAdjust="spacingAndGlyphs">100</text><text x="761.9" y="696.6" text-anchor="middle" font-size="15" textLength="23.5" lengthAdjust="spacingAndGlyphs">120</text></g>
<text x="595.6" y="716.9" font-family="'Liberation Sans', 'DejaVu Sans', sans-serif" font-size="15.5" fill="#2a2a2a" textLength="57.5" lengthAdjust="spacingAndGlyphs">Time (s)</text>
<text transform="translate(429.8,556.6) rotate(-90)" font-family="'Liberation Sans', 'DejaVu Sans', sans-serif" font-size="16" fill="#2a2a2a" text-anchor="middle" textLength="80" lengthAdjust="spacingAndGlyphs">ΔG/G<tspan font-size="11" dy="3.5">0</tspan><tspan dy="-3.5"> (%)</tspan></text>
<path d="M493.4,630.4 C494.3,628.9 496.8,623.9 499.0,621.5 C501.2,619.1 504.3,616.4 506.6,616.0 C508.9,615.6 510.8,616.7 513.0,619.0 C515.2,621.3 517.8,627.2 520.0,630.0 C522.2,632.8 524.4,635.7 526.4,636.0 C528.4,636.3 530.0,634.1 532.0,632.0 C534.0,629.9 536.4,622.9 538.6,623.6 C540.8,624.3 542.9,631.3 545.0,636.0 C547.1,640.7 548.8,648.0 551.0,652.0 C553.2,656.0 555.8,660.3 558.0,660.0 C560.2,659.7 562.0,656.7 564.0,650.0 C566.0,643.3 568.0,628.8 570.0,620.0 C572.0,611.2 573.9,602.4 576.0,597.0 C578.1,591.6 580.4,587.8 582.4,587.6 C584.4,587.4 586.1,589.8 588.0,596.0 C589.9,602.2 592.0,615.5 594.0,625.0 C596.0,634.5 598.1,647.0 600.0,653.0 C601.9,659.0 603.8,661.2 605.6,661.0 C607.4,660.8 609.4,656.2 611.0,652.0 C612.6,647.8 614.2,640.7 615.5,636.0 C616.8,631.3 617.5,628.8 618.6,623.6 C619.7,618.4 620.8,610.6 622.0,605.0 C623.2,599.4 624.4,595.9 625.7,590.0 C627.0,584.1 628.1,575.3 629.9,569.7 C631.7,564.1 634.4,560.0 636.5,556.4 C638.6,552.8 640.4,551.7 642.3,548.1 C644.2,544.5 646.1,539.6 648.1,534.8 C650.1,530.0 651.8,525.9 654.0,519.5 C656.2,513.1 658.9,501.9 661.4,496.6 C663.9,491.4 665.8,488.3 668.9,488.0 C672.0,487.7 676.8,492.2 679.7,495.0 C682.6,497.8 684.5,500.8 686.4,504.9 C688.3,509.0 689.3,513.4 691.4,519.5 C693.5,525.6 696.8,537.1 698.8,541.5 C700.8,545.9 701.7,545.6 703.2,545.9 C704.7,546.1 706.4,543.9 708.0,543.0 C709.6,542.1 711.3,540.8 713.1,540.8 C714.9,540.8 717.0,542.0 719.0,543.0 C721.0,544.0 723.3,547.8 725.3,546.8 C727.3,545.8 728.8,541.6 731.0,537.0 C733.2,532.4 736.4,524.8 738.6,519.0 C740.8,513.2 742.3,505.9 744.0,502.0 C745.7,498.1 747.2,496.2 748.6,495.4 C750.0,494.6 751.2,496.1 752.5,497.0 C753.8,497.9 755.1,500.5 756.3,500.5 C757.5,500.5 758.6,498.5 759.5,497.0 C760.4,495.5 761.5,492.3 761.9,491.4" fill="none" stroke="#1e22dc" stroke-width="1.6"/>
<rect x="662.6" y="529" width="3.8" height="83" fill="#000"/>
<polygon points="660,531 669.2,531 664.5,521.8" fill="#000"/>
<polygon points="660,610.5 669.2,610.5 664.5,619.6" fill="#000"/>
<text x="496" y="573" font-family="'Liberation Sans', 'DejaVu Sans', sans-serif" font-size="25.5" fill="#1a1a1a" textLength="129.6" lengthAdjust="spacingAndGlyphs">Δ<tspan font-style="italic">P</tspan> = 0.5 Pa</text>
</g>
</svg>
</body></html>
